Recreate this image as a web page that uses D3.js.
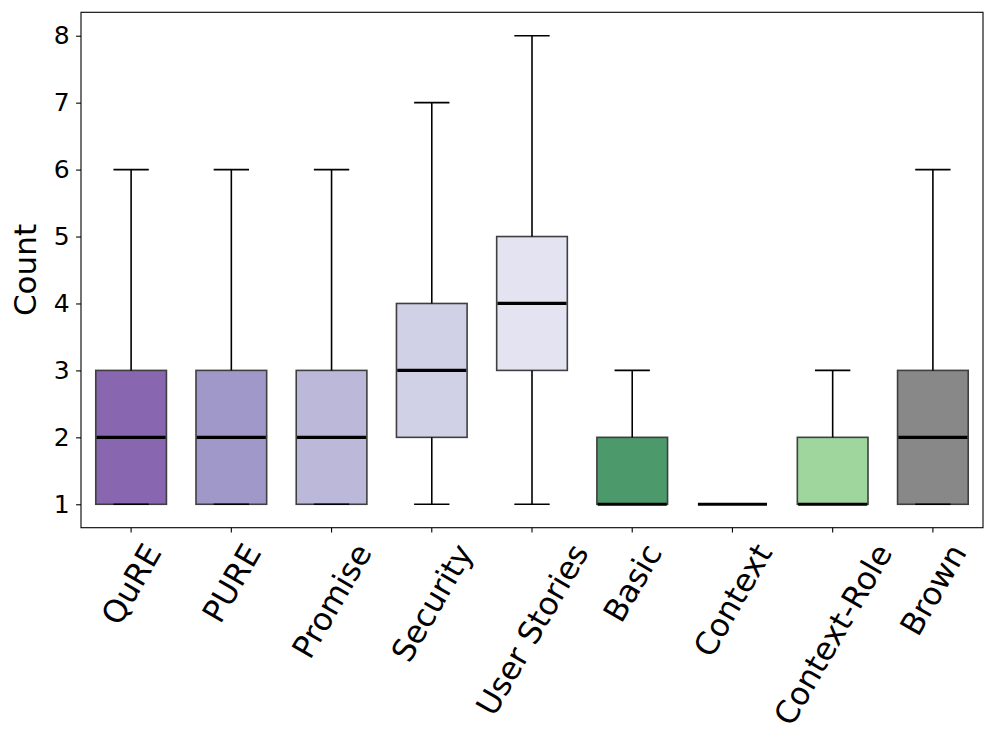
<!DOCTYPE html>
<html><head><meta charset="utf-8">
<script src="https://cdn.jsdelivr.net/npm/d3@7"></script>
<style>body{margin:0;background:#fff;} svg{display:block;font-family:"DejaVu Sans",sans-serif;}</style>
</head><body>
<svg id="chart" width="996" height="744"></svg>
<script>
const categories = ["QuRE","PURE","Promise","Security","User Stories","Basic","Context","Context-Role","Brown"];
const whiskerLow = [1,1,1,1,1,1,1,1,1];
const q1 =         [1,1,1,2,3,1,1,1,1];
const median =     [2,2,2,3,4,1,1,1,2];
const q3 =         [3,3,3,4,5,2,1,2,3];
const whiskerHigh =[6,6,6,7,8,3,1,3,6];
const colors = ["#8867b0","#a098c9","#bcb8da","#d0d0e7","#e4e3f1","#4c9a6b","#7fb87f","#9fd69e","#888888"];
const yTicks = [1,2,3,4,5,6,7,8];

const svg = d3.select("#chart");
const L = 81, R = 983, T = 12.3, B = 527.7;
const x = d3.scaleBand().domain(categories).range([L, R]).padding(0);
const y = d3.scaleLinear().domain([0.65, 8.35]).range([B, T]);
const boxW = x.bandwidth() * 0.705;
const capW = boxW / 2;

const data = categories.map((c,i)=>({c, lo:whiskerLow[i], q1:q1[i], med:median[i], q3:q3[i], hi:whiskerHigh[i], col:colors[i]}));
const g = svg.append("g");

// boxes
g.selectAll("rect.box").data(data).join("rect")
  .attr("x", d => x(d.c) + x.bandwidth()/2 - boxW/2)
  .attr("width", boxW)
  .attr("y", d => y(d.q3))
  .attr("height", d => y(d.q1) - y(d.q3))
  .attr("fill", d => d.col)
  .attr("stroke", "#3f3f3f")
  .attr("stroke-width", 1.6);

// whiskers
const wg = g.selectAll("g.wh").data(data).join("g");
wg.append("line").attr("x1", d=>x(d.c)+x.bandwidth()/2).attr("x2", d=>x(d.c)+x.bandwidth()/2)
  .attr("y1", d=>y(d.q3)).attr("y2", d=>y(d.hi)).attr("stroke","#000").attr("stroke-width",1.6);
wg.append("line").attr("x1", d=>x(d.c)+x.bandwidth()/2).attr("x2", d=>x(d.c)+x.bandwidth()/2)
  .attr("y1", d=>y(d.q1)).attr("y2", d=>y(d.lo)).attr("stroke","#000").attr("stroke-width",1.6);
wg.append("line").attr("x1", d=>x(d.c)+x.bandwidth()/2-capW/2).attr("x2", d=>x(d.c)+x.bandwidth()/2+capW/2)
  .attr("y1", d=>y(d.hi)).attr("y2", d=>y(d.hi)).attr("stroke","#000").attr("stroke-width",1.6);
wg.append("line").attr("x1", d=>x(d.c)+x.bandwidth()/2-capW/2).attr("x2", d=>x(d.c)+x.bandwidth()/2+capW/2)
  .attr("y1", d=>y(d.lo)).attr("y2", d=>y(d.lo)).attr("stroke","#000").attr("stroke-width",1.6);

// medians
g.selectAll("line.med").data(data).join("line")
  .attr("x1", d => x(d.c) + x.bandwidth()/2 - boxW/2 + 0.8)
  .attr("x2", d => x(d.c) + x.bandwidth()/2 + boxW/2 - 0.8)
  .attr("y1", d => y(d.med)).attr("y2", d => y(d.med))
  .attr("stroke", "#000").attr("stroke-width", 3.2);

// frame
svg.append("rect").attr("x",L).attr("y",T).attr("width",R-L).attr("height",B-T)
  .attr("fill","none").attr("stroke","#000").attr("stroke-width",1.1);

// y axis
const yAxis = svg.append("g").attr("transform",`translate(${L},0)`)
  .call(d3.axisLeft(y).tickValues(yTicks).tickSize(4.9).tickPadding(6.5).tickFormat(d3.format("d")));
yAxis.select(".domain").remove();
yAxis.selectAll("line").attr("stroke","#000").attr("stroke-width",1.1);
yAxis.selectAll("text").attr("font-size","25px").attr("fill","#000").attr("font-family","DejaVu Sans");

// x axis ticks
const xAxis = svg.append("g").attr("transform",`translate(0,${B})`)
  .call(d3.axisBottom(x).tickSize(4.9).tickFormat(""));
xAxis.select(".domain").remove();
xAxis.selectAll("line").attr("stroke","#000").attr("stroke-width",1.1);

// x labels rotated 60 deg, centered bbox like matplotlib
const fs = 31.5, lineH = fs*1.164, ang = 60*Math.PI/180;
const labelTop = B + 4.9 + 4.9;
categories.forEach(c => {
  const t = svg.append("text").text(c).attr("font-size", fs+"px").attr("fill","#000")
    .attr("text-anchor","middle");
  const len = t.node().getComputedTextLength();
  const bh = len*Math.sin(ang) + lineH*Math.cos(ang);
  const cx = x(c) + x.bandwidth()/2, cy = labelTop + bh/2;
  t.attr("transform",`translate(${cx},${cy}) rotate(-60)`).attr("dy","0.36em");
});

// y label
svg.append("text").text("Count").attr("font-size","31px").attr("fill","#000")
  .attr("text-anchor","middle").attr("dy","0.36em")
  .attr("transform",`translate(25,${(T+B)/2}) rotate(-90)`);
</script>
</body></html>
